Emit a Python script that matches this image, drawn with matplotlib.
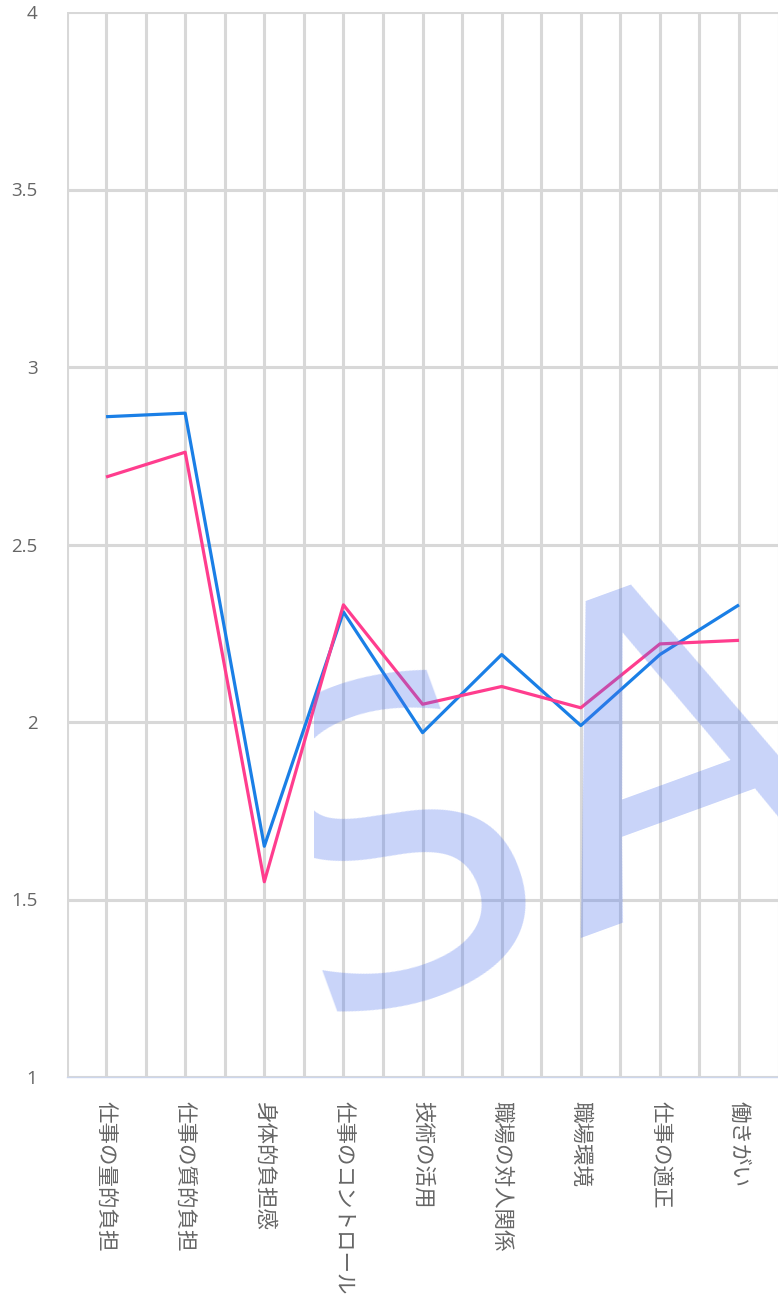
import matplotlib
matplotlib.use("Agg")
import matplotlib.pyplot as plt
from matplotlib.transforms import Bbox, TransformedBbox
import numpy as np

categories = ["仕事の量的負担", "仕事の質的負担", "身体的負担感", "仕事のコントロール",
              "技術の活用", "職場の対人関係", "職場環境", "仕事の適正", "働きがい"]
series_blue = [2.86, 2.87, 1.65, 2.31, 1.97, 2.19, 1.99, 2.19, 2.33]
series_pink = [2.69, 2.76, 1.55, 2.33, 2.05, 2.10, 2.04, 2.22, 2.23]
y_ticks = [1, 1.5, 2, 2.5, 3, 3.5, 4]
y_tick_labels = ["1", "1.5", "2", "2.5", "3", "3.5", "4"]

W, H = 778, 1302
fig = plt.figure(figsize=(W / 100, H / 100), dpi=100)
left = 66.5 / W
right = 778.6 / W
top = 1 - 12 / H
bottom = 1 - 1077 / H
ax = fig.add_axes([left, bottom, right - left, top - bottom])

n = len(categories)
x = np.arange(n)
ax.set_xlim(-0.5, n - 0.5)
ax.set_ylim(1, 4)

grid_c = "#d8d8d8"
grid_lw = 2.2
for gx in np.arange(-0.5, n, 0.5):
    ax.axvline(gx, color=grid_c, lw=grid_lw, zorder=1)
for gy in y_ticks:
    ax.axhline(gy, color=grid_c, lw=grid_lw, zorder=1)

for s in ["top", "right", "left"]:
    ax.spines[s].set_visible(False)
ax.spines["bottom"].set_color("#ccd6eb")
ax.spines["bottom"].set_linewidth(1.0)

ax.plot(x, series_blue, color="#1a7fe6", lw=2.3, zorder=3, solid_capstyle="butt")
ax.plot(x, series_pink, color="#ff3d8e", lw=2.3, zorder=4, solid_capstyle="butt")

ax.set_yticks(y_ticks)
ax.set_yticklabels(y_tick_labels, fontsize=13.5, color="#666666", family=["Open Sans", "DejaVu Sans"])
ax.tick_params(axis="y", length=0, pad=21)
ax.set_xticks(x)
ax.set_xticklabels(categories, rotation=-90, fontsize=15.5, color="#666666",
                   family=["Noto Sans CJK JP", "DejaVu Sans"], va="top", ha="center")
ax.tick_params(axis="x", length=0, pad=17)

wm = ax.text(2.604, 1.1465, "SAMPLE", fontsize=310, color=(0.29, 0.44, 0.93), alpha=0.3,
             rotation=20, rotation_mode="anchor", ha="left", va="baseline",
             family=["DejaVu Sans"], zorder=5)
clip_x0 = (314 - 106) / 79.1
wm.set_clip_on(True)
wm.set_clip_box(TransformedBbox(Bbox([[clip_x0, 1.0], [n - 0.5, 4.0]]), ax.transData))

fig.savefig("out.png", dpi=100)
